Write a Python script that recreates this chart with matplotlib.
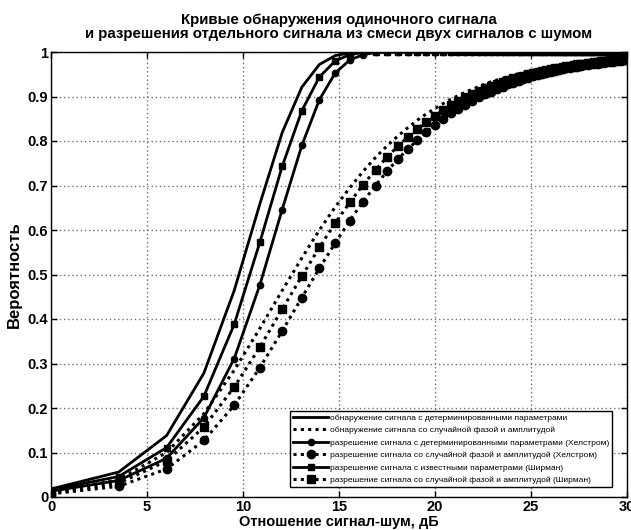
import matplotlib
matplotlib.use('Agg')
import matplotlib.pyplot as plt

# шрифт: кириллица есть в Liberation Sans / DejaVu Sans
plt.rcParams['font.family'] = ['Liberation Sans', 'DejaVu Sans']
plt.rcParams['font.weight'] = 'bold'

# отношение сигнал-шум, дБ
snr_db = [0.0, 3.522, 6.021, 7.959, 9.542, 10.881, 12.041, 13.064, 13.979, 14.807,
          15.563, 16.258, 16.902, 17.501, 18.062, 18.588, 19.085, 19.554, 20.0, 20.424,
          20.828, 21.214, 21.584, 21.938, 22.279, 22.607, 22.923, 23.227, 23.522, 23.807,
          24.082, 24.350, 24.609, 24.861, 25.105, 25.343, 25.575, 25.801, 26.021, 26.235,
          26.444, 26.649, 26.848, 27.044, 27.235, 27.421, 27.604, 27.783, 27.959, 28.131,
          28.299, 28.465, 28.627, 28.787, 28.943, 29.097, 29.248, 29.396, 29.542, 29.686,
          29.827, 29.966]

# обнаружение, детерминированные параметры
p_det_known = [0.018, 0.056, 0.138, 0.278, 0.464, 0.659, 0.819, 0.921, 0.972, 0.992,
               0.998, 1.0, 1.0, 1.0, 1.0, 1.0, 1.0, 1.0, 1.0, 1.0,
               1.0, 1.0, 1.0, 1.0, 1.0, 1.0, 1.0, 1.0, 1.0, 1.0,
               1.0, 1.0, 1.0, 1.0, 1.0, 1.0, 1.0, 1.0, 1.0, 1.0,
               1.0, 1.0, 1.0, 1.0, 1.0, 1.0, 1.0, 1.0, 1.0, 1.0,
               1.0, 1.0, 1.0, 1.0, 1.0, 1.0, 1.0, 1.0, 1.0, 1.0,
               1.0, 1.0]

# обнаружение, случайная фаза и амплитуда
p_det_random = [0.010, 0.039, 0.100, 0.187, 0.285, 0.379, 0.464, 0.537, 0.600, 0.652,
                0.695, 0.732, 0.763, 0.789, 0.811, 0.830, 0.847, 0.861, 0.873, 0.884,
                0.894, 0.902, 0.910, 0.916, 0.922, 0.928, 0.933, 0.937, 0.941, 0.945,
                0.948, 0.951, 0.954, 0.956, 0.959, 0.961, 0.963, 0.965, 0.966, 0.968,
                0.969, 0.971, 0.972, 0.973, 0.974, 0.975, 0.976, 0.977, 0.978, 0.979,
                0.980, 0.981, 0.981, 0.982, 0.983, 0.983, 0.984, 0.984, 0.985, 0.985,
                0.986, 0.986]

# разрешение (Хелстром), детерминированные параметры
p_helstrom_known = [0.013, 0.037, 0.087, 0.178, 0.311, 0.477, 0.646, 0.790, 0.893, 0.953,
                    0.982, 0.994, 0.999, 1.0, 1.0, 1.0, 1.0, 1.0, 1.0, 1.0,
                    1.0, 1.0, 1.0, 1.0, 1.0, 1.0, 1.0, 1.0, 1.0, 1.0,
                    1.0, 1.0, 1.0, 1.0, 1.0, 1.0, 1.0, 1.0, 1.0, 1.0,
                    1.0, 1.0, 1.0, 1.0, 1.0, 1.0, 1.0, 1.0, 1.0, 1.0,
                    1.0, 1.0, 1.0, 1.0, 1.0, 1.0, 1.0, 1.0, 1.0, 1.0,
                    1.0, 1.0]

# разрешение (Хелстром), случайная фаза и амплитуда
p_helstrom_random = [0.007, 0.024, 0.063, 0.127, 0.206, 0.291, 0.373, 0.448, 0.514, 0.571,
                     0.621, 0.664, 0.700, 0.732, 0.759, 0.782, 0.802, 0.820, 0.836, 0.850,
                     0.862, 0.872, 0.882, 0.891, 0.898, 0.905, 0.911, 0.917, 0.922, 0.927,
                     0.931, 0.935, 0.939, 0.942, 0.945, 0.948, 0.951, 0.953, 0.955, 0.957,
                     0.959, 0.961, 0.963, 0.964, 0.966, 0.967, 0.969, 0.970, 0.971, 0.972,
                     0.973, 0.974, 0.975, 0.976, 0.977, 0.978, 0.978, 0.979, 0.980, 0.980,
                     0.981, 0.982]

# разрешение (Ширман), известные параметры
p_shirman_known = [0.016, 0.046, 0.111, 0.226, 0.388, 0.573, 0.743, 0.868, 0.944, 0.980,
                   0.994, 0.999, 1.0, 1.0, 1.0, 1.0, 1.0, 1.0, 1.0, 1.0,
                   1.0, 1.0, 1.0, 1.0, 1.0, 1.0, 1.0, 1.0, 1.0, 1.0,
                   1.0, 1.0, 1.0, 1.0, 1.0, 1.0, 1.0, 1.0, 1.0, 1.0,
                   1.0, 1.0, 1.0, 1.0, 1.0, 1.0, 1.0, 1.0, 1.0, 1.0,
                   1.0, 1.0, 1.0, 1.0, 1.0, 1.0, 1.0, 1.0, 1.0, 1.0,
                   1.0, 1.0]

# разрешение (Ширман), случайная фаза и амплитуда
p_shirman_random = [0.008, 0.031, 0.081, 0.157, 0.247, 0.337, 0.422, 0.496, 0.561, 0.616,
                    0.662, 0.702, 0.735, 0.764, 0.788, 0.809, 0.827, 0.843, 0.857, 0.869,
                    0.880, 0.889, 0.898, 0.905, 0.912, 0.918, 0.923, 0.928, 0.933, 0.937,
                    0.941, 0.944, 0.947, 0.950, 0.953, 0.955, 0.957, 0.960, 0.962, 0.963,
                    0.965, 0.967, 0.968, 0.969, 0.971, 0.972, 0.973, 0.974, 0.975, 0.976,
                    0.977, 0.978, 0.979, 0.979, 0.980, 0.981, 0.981, 0.982, 0.983, 0.983,
                    0.984, 0.984]

labels = ['обнаружение сигнала с детерминированными параметрами',
          'обнаружение сигнала со случайной фазой и амплитудой',
          'разрешение сигнала с детерминированными параметрами (Хелстром)',
          'разрешение сигнала со случайной фазой и амплитудой (Хелстром)',
          'разрешение сигнала с известными параметрами (Ширман)',
          'разрешение сигнала со случайной фазой и амплитудой (Ширман)']

fig = plt.figure(figsize=(6.31, 5.30), dpi=100)
ax = fig.add_axes([51 / 631, 33 / 530, 576 / 631, 445 / 530])

dot = (0, (1, 1.4))
ax.plot(snr_db, p_det_known, color='k', lw=2, label=labels[0])
ax.plot(snr_db, p_det_random, color='k', lw=2.2, linestyle=dot, label=labels[1])
ax.plot(snr_db, p_helstrom_known, color='k', lw=2, marker='o', ms=4.5, label=labels[2])
ax.plot(snr_db, p_helstrom_random, color='k', lw=2.2, linestyle=dot, marker='o', ms=6, label=labels[3])
ax.plot(snr_db, p_shirman_known, color='k', lw=2, marker='s', ms=4.5, label=labels[4])
ax.plot(snr_db, p_shirman_random, color='k', lw=2.2, linestyle=dot, marker='s', ms=6, label=labels[5])

ax.set_xlim(0, 30)
ax.set_ylim(0, 1)
ax.set_xticks(range(0, 31, 5))
ax.set_yticks([i / 10 for i in range(11)])
ax.set_yticklabels(['0', '0.1', '0.2', '0.3', '0.4', '0.5', '0.6', '0.7', '0.8', '0.9', '1'])
ax.grid(True, color='#707070', linestyle=(0, (1, 2)), linewidth=1)
ax.tick_params(direction='in', top=True, right=True, length=4, width=1, labelsize=10.5, pad=2)
for s in ax.spines.values():
    s.set_linewidth(1)

ax.set_title('Кривые обнаружения одиночного сигнала\n'
             'и разрешения отдельного сигнала из смеси двух сигналов с шумом',
             fontsize=10.8, fontweight='bold', pad=10, linespacing=1.0)
ax.set_xlabel('Отношение сигнал-шум, дБ', fontsize=10.5, fontweight='bold', labelpad=1)
ax.set_ylabel('Вероятность', fontsize=12, fontweight='bold', labelpad=4)

leg = ax.legend(loc='lower right', bbox_to_anchor=(0.974, 0.0225), borderaxespad=0,
                prop={'size': 6, 'weight': 'normal'}, handlelength=4.2, handletextpad=0.2,
                labelspacing=0.55, borderpad=0.35, fancybox=False, framealpha=1,
                edgecolor='k')
leg.get_frame().set_linewidth(1)

plt.savefig('out.png', dpi=100)
plt.close()
